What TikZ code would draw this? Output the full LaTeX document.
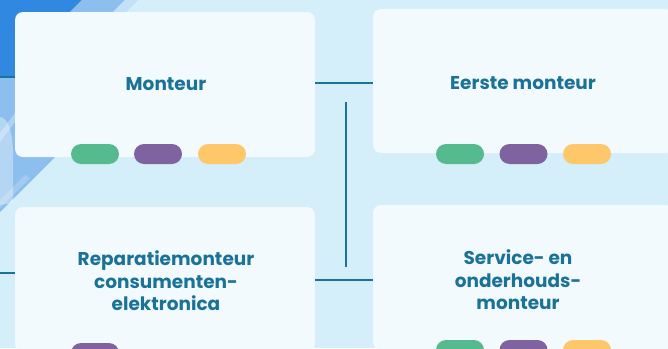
\documentclass[tikz,border=0pt]{standalone}
\usepackage{fontspec}
\setmainfont{Poppins}
\definecolor{bgc}{HTML}{D4EEFA}
\definecolor{cardc}{HTML}{F3FAFE}
\definecolor{txtc}{HTML}{1B7297}
\definecolor{linec}{HTML}{1C7398}
\definecolor{darkb}{HTML}{3088E0}
\definecolor{midb}{HTML}{8CBFEE}
\definecolor{lightb}{HTML}{C2E0F8}
\definecolor{pgreen}{HTML}{55BA8E}
\definecolor{ppurple}{HTML}{7F62A0}
\definecolor{pyellow}{HTML}{FEC86A}
\tikzset{
  card/.style={fill=cardc, rounded corners=8pt, minimum width=300pt, inner sep=0pt},
  cardtext/.style={text=txtc, font=\fontsize{18.5}{22.5}\selectfont\bfseries, align=center},
  pill/.style={rounded corners=10pt, minimum width=48pt, minimum height=20pt, inner sep=0pt},
  conn/.style={draw=linec, line width=2pt},
}
\begin{document}
\begin{tikzpicture}[x=1pt,y=-1pt]
\useasboundingbox (0,0) rectangle (668,348);
\clip (0,0) rectangle (668,348);
\fill[bgc] (0,0) rectangle (668,348);
% decorations
\fill[darkb] (0,0) -- (82,0) -- (15,67) -- (15,76) -- (0,76) -- cycle;
\fill[midb] (82,0) -- (125,0) -- (113,12) -- (100,150) -- (62,150) -- (0,212) -- (0,76) -- (15,76) -- (15,67) -- cycle;
\fill[lightb] (125,0) -- (138,0) -- (126,12) -- (113,12) -- cycle;
\fill[white, opacity=0.3] (0,133) -- (15,113) -- (15,122) -- (0,142) -- cycle;
\fill[white, opacity=0.35] (0,117) .. controls (8,118) and (12,130) .. (13,150) -- (13,203) -- (0,205) -- cycle;
\fill[white, opacity=0.2] (0,200) -- (25,175) -- (30,178) -- (0,208) -- cycle;
% cards
\node[card, minimum height=145pt] (c1) at (165,84.5) {};
\node[card, minimum height=144pt] (c2) at (523,81) {};
\node[card, minimum height=145pt] (c3) at (165,279.5) {};
\node[card, minimum height=145pt] (c4) at (523,277.5) {};
% texts
\node[cardtext] (t1) at (166,84) {Monteur};
\node[cardtext] (t2) at (523,83) {Eerste monteur};
\node[cardtext] (t3) at (166,281) {Reparatiemonteur\\consumenten-\\elektronica};
\node[cardtext] (t4) at (518,280) {Service- en\\onderhouds-\\monteur};
% pills
\node[pill, fill=pgreen] (p11) at (95,154) {};
\node[pill, fill=ppurple] (p12) at (158,154) {};
\node[pill, fill=pyellow] (p13) at (222,154) {};
\node[pill, fill=pgreen] (p21) at (460,154) {};
\node[pill, fill=ppurple] (p22) at (523.5,154) {};
\node[pill, fill=pyellow] (p23) at (587,154) {};
\node[pill, fill=ppurple] (p31) at (95,353) {};
\node[pill, fill=pgreen] (p41) at (460,350) {};
\node[pill, fill=ppurple] (p42) at (523.5,350) {};
\node[pill, fill=pyellow] (p43) at (587,350) {};
% connectors
\coordinate (s1) at (0,77);
\coordinate (s3) at (0,273);
\coordinate (h1) at (0,83);
\coordinate (h2) at (0,280);
\coordinate (v1) at (346,102);
\coordinate (v2) at (346,267);
\draw[conn] (s1) -- (s1 -| c1.west);
\draw[conn] (s3) -- (s3 -| c3.west);
\draw[conn] (h1 -| c1.east) -- (h1 -| c2.west);
\draw[conn] (h2 -| c3.east) -- (h2 -| c4.west);
\draw[conn] (v1) -- (v2);
\end{tikzpicture}
\end{document}
